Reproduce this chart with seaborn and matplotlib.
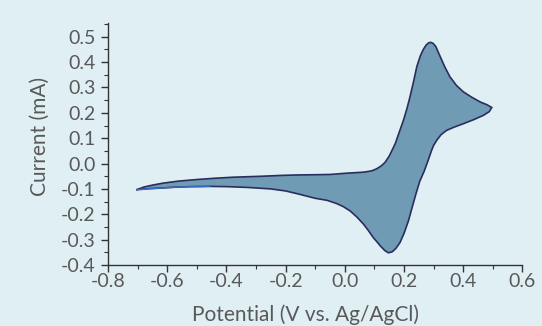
import numpy as np
import pandas as pd
import matplotlib
matplotlib.use("Agg")
import matplotlib.pyplot as plt
from matplotlib.ticker import MultipleLocator, FormatStrFormatter
import seaborn as sns

# balayage aller (oxydation)
forward_x = [-0.703, -0.68, -0.65, -0.613, -0.56, -0.50, -0.44, -0.38, -0.331, -0.28,
             -0.22, -0.163, -0.10, -0.05, 0.006, 0.063, 0.09, 0.107, 0.122, 0.136,
             0.150, 0.170, 0.185, 0.198, 0.210, 0.220, 0.232, 0.243, 0.255, 0.265,
             0.275, 0.283, 0.290, 0.298, 0.307, 0.322, 0.338, 0.355, 0.377, 0.400,
             0.428, 0.457, 0.480, 0.496]
forward_y = [-0.103, -0.093, -0.085, -0.077, -0.069, -0.063, -0.058, -0.054, -0.052, -0.050,
             -0.047, -0.045, -0.044, -0.043, -0.038, -0.034, -0.029, -0.021, -0.010, 0.005,
             0.030, 0.078, 0.128, 0.171, 0.218, 0.263, 0.323, 0.382, 0.425, 0.450,
             0.468, 0.476, 0.478, 0.474, 0.462, 0.422, 0.380, 0.342, 0.308, 0.283,
             0.262, 0.243, 0.232, 0.221]

# balayage retour (réduction)
reverse_x = [0.496, 0.488, 0.468, 0.435, 0.400, 0.370, 0.344, 0.325, 0.310, 0.300,
             0.293, 0.282, 0.268, 0.253, 0.240, 0.228, 0.215, 0.200, 0.186, 0.172,
             0.160, 0.147, 0.135, 0.120, 0.108, 0.096, 0.080, 0.063, 0.040, 0.018,
             -0.005, -0.027, -0.06, -0.10, -0.15, -0.20, -0.25, -0.331, -0.40, -0.455,
             -0.52, -0.57, -0.613, -0.66, -0.703]
reverse_y = [0.221, 0.205, 0.190, 0.173, 0.157, 0.144, 0.131, 0.114, 0.091, 0.072,
             0.052, 0.015, -0.030, -0.070, -0.120, -0.170, -0.225, -0.275, -0.312, -0.335,
             -0.348, -0.352, -0.343, -0.325, -0.308, -0.292, -0.265, -0.239, -0.210, -0.187,
             -0.170, -0.158, -0.145, -0.137, -0.122, -0.108, -0.100, -0.094, -0.091, -0.090,
             -0.091, -0.093, -0.096, -0.099, -0.103]

xlabel = "Potential (V vs. Ag/AgCl)"
ylabel = "Current (mA)"

BG = "#e0eff4"
FILL = "#6f9bb4"
EDGE = "#2b2d5c"
TEXT = "#595959"

sns.set_theme(style="ticks")
plt.rcParams['font.family'] = ['Lato', 'DejaVu Sans']
plt.rcParams['axes.unicode_minus'] = False

fig = plt.figure(figsize=(5.42, 3.26), dpi=100, facecolor=BG)
ax = fig.add_axes([0.1993, 0.1871, 0.7647, 0.7414])
ax.set_facecolor(BG)

df_fwd = pd.DataFrame({'E': forward_x, 'I': forward_y})
df_rev = pd.DataFrame({'E': reverse_x, 'I': reverse_y})

ax.fill(forward_x + reverse_x, forward_y + reverse_y, color=FILL, lw=0, zorder=1)
sns.lineplot(data=df_fwd, x='E', y='I', sort=False, color=EDGE, lw=1.2, ax=ax, zorder=3)
sns.lineplot(data=df_rev, x='E', y='I', sort=False, color=EDGE, lw=1.2, ax=ax, zorder=3)
tail = df_rev[df_rev['E'] <= -0.455]
sns.lineplot(data=tail, x='E', y='I', sort=False, color="#3a6cc0", lw=1.0, ax=ax, zorder=4)

ax.set_xlim(-0.8, 0.6)
ax.set_ylim(-0.4, 0.553)
ax.xaxis.set_major_locator(MultipleLocator(0.2))
ax.xaxis.set_minor_locator(MultipleLocator(0.1))
ax.yaxis.set_major_locator(MultipleLocator(0.1))
ax.yaxis.set_minor_locator(MultipleLocator(0.05))
ax.xaxis.set_major_formatter(FormatStrFormatter('%.1f'))
ax.yaxis.set_major_formatter(FormatStrFormatter('%.1f'))

for s in ['top', 'right']:
    ax.spines[s].set_visible(False)
for s in ['left', 'bottom']:
    ax.spines[s].set_color("#333333")
    ax.spines[s].set_linewidth(1.0)

ax.tick_params(which='major', direction='out', length=5, width=1, color="#333333",
               labelsize=14, labelcolor=TEXT)
ax.tick_params(which='minor', direction='out', length=3, width=0.8, color="#333333")
ax.tick_params(axis='x', which='major', pad=1)
ax.tick_params(axis='y', which='major', pad=4)

ax.set_xlabel(xlabel, fontsize=15, color=TEXT)
ax.set_ylabel(ylabel, fontsize=15, color=TEXT)
ax.xaxis.set_label_coords(0.477, -0.165)
ax.yaxis.set_label_coords(-0.14, 0.53)

fig.savefig("out.png", dpi=100, facecolor=BG)
